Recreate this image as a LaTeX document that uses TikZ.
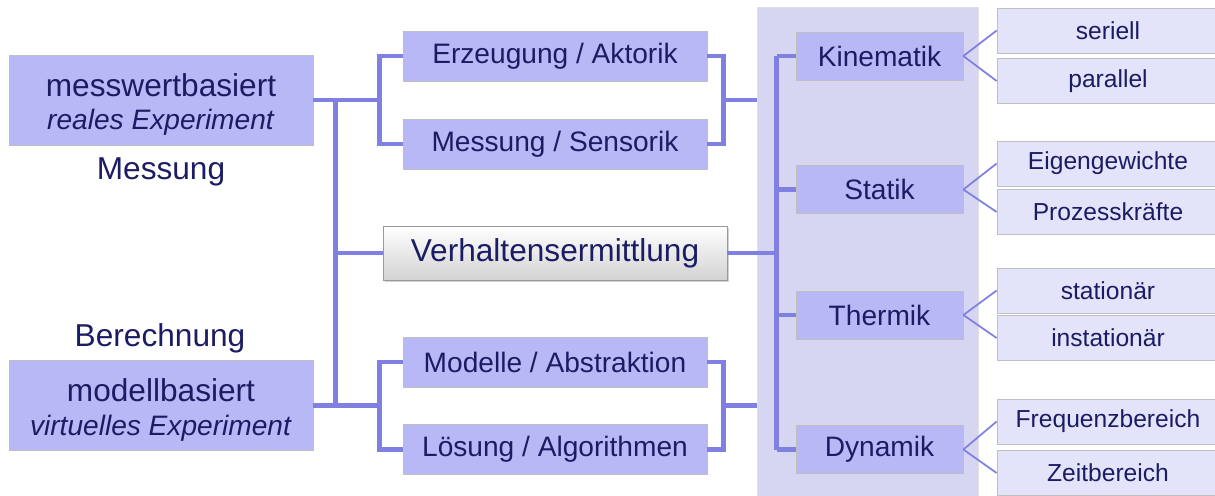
\documentclass[tikz,border=0pt]{standalone}
\usepackage{fontspec}
\setmainfont{Liberation Sans}
\usetikzlibrary{positioning,calc,shadows}
\definecolor{boxblue}{RGB}{184,184,246}
\definecolor{panelblue}{RGB}{214,214,243}
\definecolor{leafblue}{RGB}{227,227,250}
\definecolor{pipeblue}{RGB}{128,128,226}
\definecolor{navytext}{RGB}{28,28,100}

\begin{document}
\begin{tikzpicture}[x=0.2mm, y=-0.2mm,
    every node/.style={text=navytext},
    mainbox/.style={rectangle, fill=boxblue, draw=black!25, inner sep=0pt, minimum width=60.8mm, minimum height=18mm, align=center, font=\fontsize{18}{19}\selectfont},
    midbox/.style={rectangle, fill=boxblue, draw=black!25, inner sep=0pt, minimum width=60.8mm, minimum height=10mm, font=\fontsize{16}{19}\selectfont},
    catbox/.style={midbox, minimum width=33.4mm, minimum height=9.6mm},
    leafbox/.style={rectangle, fill=leafblue, draw=black!25, inner sep=0pt, minimum width=44.4mm, minimum height=9mm, font=\fontsize{14}{17}\selectfont},
    pipe/.style={draw=pipeblue, line width=2.6pt},
    twig/.style={draw=pipeblue, line width=1pt}]
    \clip (0,0) rectangle (1215,495);

    % shaded panel behind the categories
    \node[fill=panelblue, draw=black!12, inner sep=0pt, minimum width=44.2mm, minimum height=98.6mm] (panel) at (867.5,253.5) {};

    % left column
    \node[mainbox] (mw) at (161,100) {\rule{0pt}{18pt}messwertbasiert\\\fontsize{16}{19}\selectfont\textit{reales Experiment}};
    \node[font=\fontsize{18}{21}\selectfont] (messL) at (161,172) {Messung};
    \node[font=\fontsize{18}{21}\selectfont] (berL) at (160,338) {Berechnung};
    \node[mainbox] (mb) at (161,405.5) {\rule{0pt}{18pt}modellbasiert\\\fontsize{16}{19}\selectfont\textit{virtuelles Experiment}};

    % middle column
    \node[midbox] (erz) at (555,56) {Erzeugung / Aktorik};
    \node[midbox] (mes) at (555,144) {Messung / Sensorik};
    \node[rectangle, top color=white, bottom color=gray!35, draw=gray!80, drop shadow={opacity=0.35, shadow xshift=1pt, shadow yshift=-1pt},
          inner sep=0pt, minimum width=68.8mm, minimum height=10.8mm, font=\fontsize{18}{21}\selectfont] (verh) at (555,253) {Verhaltensermittlung};
    \node[midbox] (mod) at (555,362) {Modelle / Abstraktion};
    \node[midbox] (loes) at (555,449.5) {Lösung / Algorithmen};

    % categories
    \node[catbox] (kin) at (879.5,56) {Kinematik};
    \node[catbox] (sta) at (879.5,189.5) {Statik};
    \node[catbox] (the) at (879.5,315) {Thermik};
    \node[catbox] (dyn) at (879.5,449.5) {Dynamik};

    % leaves
    \node[leafbox] (ser) at (1108,30.5) {seriell};
    \node[leafbox] (par) at (1108,81) {parallel};
    \node[leafbox] (eig) at (1108,163.5) {Eigengewichte};
    \node[leafbox] (pro) at (1108,212) {Prozesskräfte};
    \node[leafbox] (sti) at (1108,290.5) {stationär};
    \node[leafbox] (ins) at (1108,338) {instationär};
    \node[leafbox] (fre) at (1108,421.5) {Frequenzbereich};
    \node[leafbox] (zei) at (1108,473) {Zeitbereich};

    % brackets between the columns
    \foreach \a/\b/\src in {erz/mes/mw, mod/loes/mb} {
        \draw[pipe] (\a.west) -- ++(-23,0) coordinate (\a-l) |- (\b.west);
        \draw[pipe] (\src.east) -- (\src.east -| \a-l);
        \draw[pipe] (\a.east) -- ++(16,0) coordinate (\a-r) |- (\b.east);
        \coordinate (\a-m) at ($(\a-r)!0.5!(\a-r |- \b.east)$);
        \draw[pipe] (\a-m) -- (\a-m -| panel.west);
    }
    \draw[pipe] ($(mw.east)+(22,0)$) coordinate (tt) -- ($(mb.east)+(22,0)$);
    \draw[pipe] (tt |- verh.west) -- (verh.west);

    % trunk inside the panel
    \coordinate (rt) at ($(kin.west)+(-19,0)$);
    \draw[pipe] (rt) -- (rt |- dyn.west);
    \draw[pipe] (verh.east) -- (rt |- verh.east);
    \foreach \c in {kin,sta,the,dyn}
        \draw[pipe] (rt |- \c.west) -- (\c.west);

    \foreach \c/\u/\l in {kin/ser/par, sta/eig/pro, the/sti/ins, dyn/fre/zei} {
        \draw[twig] (\c.east) -- (\u.west);
        \draw[twig] (\c.east) -- (\l.west);
    }
\end{tikzpicture}
\end{document}
